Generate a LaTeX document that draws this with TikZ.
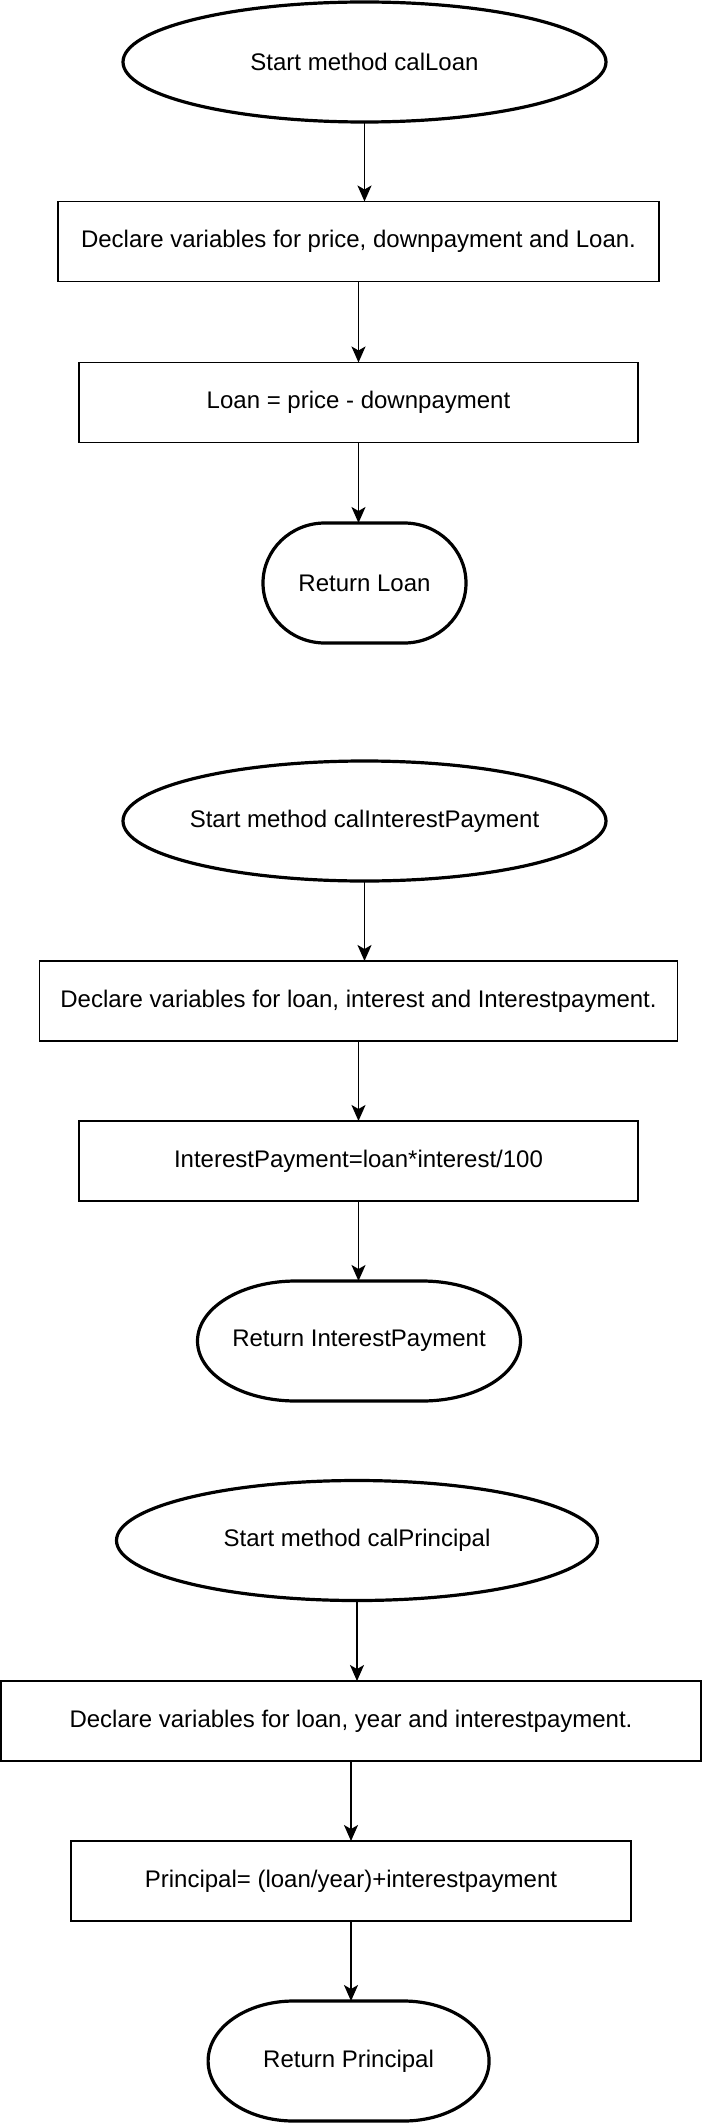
\documentclass[tikz,border=0pt]{standalone}
\usepackage{fontspec}
\setmainfont{Liberation Sans}
\usetikzlibrary{arrows.meta,calc,shapes.geometric}

\newcommand\termline[1]{%
  \draw[line width=3.2pt] let \p1=(#1.north west), \p2=(#1.south east),
    \n1={(\x2-\x1)*0.3045}, \n2={(\y1-\y2)/2} in
    (\x1+\n1,\y1) -- (\x2-\n1,\y1)
    arc[start angle=90,end angle=-90,x radius={\n1*1pt},y radius={\n2*1pt}]
    -- (\x1+\n1,\y2)
    arc[start angle=270,end angle=90,x radius={\n1*1pt},y radius={\n2*1pt}] -- cycle;}

\begin{document}
\begin{tikzpicture}[x=1pt,y=-1pt,font=\fontsize{24}{29}\selectfont,
  >={Stealth[length=16pt,width=14pt,inset=4pt]},
  startnode/.style={ellipse,draw,line width=3.2pt,minimum width=483pt,minimum height=120pt,inner ysep=0pt,inner xsep=-40pt,outer sep=0pt},
  procbox/.style={rectangle,draw,line width=1.8pt,minimum height=80pt,inner sep=0pt,outer sep=0pt},
  endnode/.style={rectangle,minimum height=120pt,inner sep=0pt,outer sep=0pt},
  flow/.style={->,line width=1.8pt}]
\fill[white] (0,0) rectangle (702,2124);
\useasboundingbox (0,0) rectangle (702,2124);

\node[startnode] (start1) at (364.5,62) {Start method calLoan};
\node[procbox,minimum width=601pt] (decl1) at (358.5,241.5) {Declare variables for price, downpayment and Loan.};
\node[procbox,minimum width=559pt] (calc1) at (358.5,402.5) {Loan = price - downpayment};
\node[endnode,minimum width=203pt] (ret1) at (364.5,583) {Return Loan};
\termline{ret1}
\draw[flow] (start1.south) -- (start1.south |- decl1.north);
\draw[flow] (decl1.south) -- (calc1.north);
\draw[flow] (calc1.south) -- (calc1.south |- ret1.north);

\node[startnode] (start2) at (364.5,821) {Start method calInterestPayment};
\node[procbox,minimum width=638pt] (decl2) at (358.5,1001) {Declare variables for loan, interest and Interestpayment.};
\node[procbox,minimum width=559pt] (calc2) at (358.5,1161) {InterestPayment=loan*interest/100};
\node[endnode,minimum width=323pt] (ret2) at (359,1341) {Return InterestPayment};
\termline{ret2}
\draw[flow] (start2.south) -- (start2.south |- decl2.north);
\draw[flow] (decl2.south) -- (calc2.north);
\draw[flow] (calc2.south) -- (calc2.south |- ret2.north);

\node[startnode,minimum width=481pt] (start3) at (357,1540.5) {Start method calPrincipal};
\node[procbox,minimum width=700pt] (decl3) at (351,1721) {Declare variables for loan, year and interestpayment.};
\node[procbox,minimum width=560pt] (calc3) at (351,1881) {Principal= (loan/year)+interestpayment};
\node[endnode,minimum width=281pt] (ret3) at (348.6,2061) {Return Principal};
\termline{ret3}
\draw[flow] (start3.south) -- (start3.south |- decl3.north);
\draw[flow] (decl3.south) -- (calc3.north);
\draw[flow] (calc3.south) -- (calc3.south |- ret3.north);
\end{tikzpicture}
\end{document}
